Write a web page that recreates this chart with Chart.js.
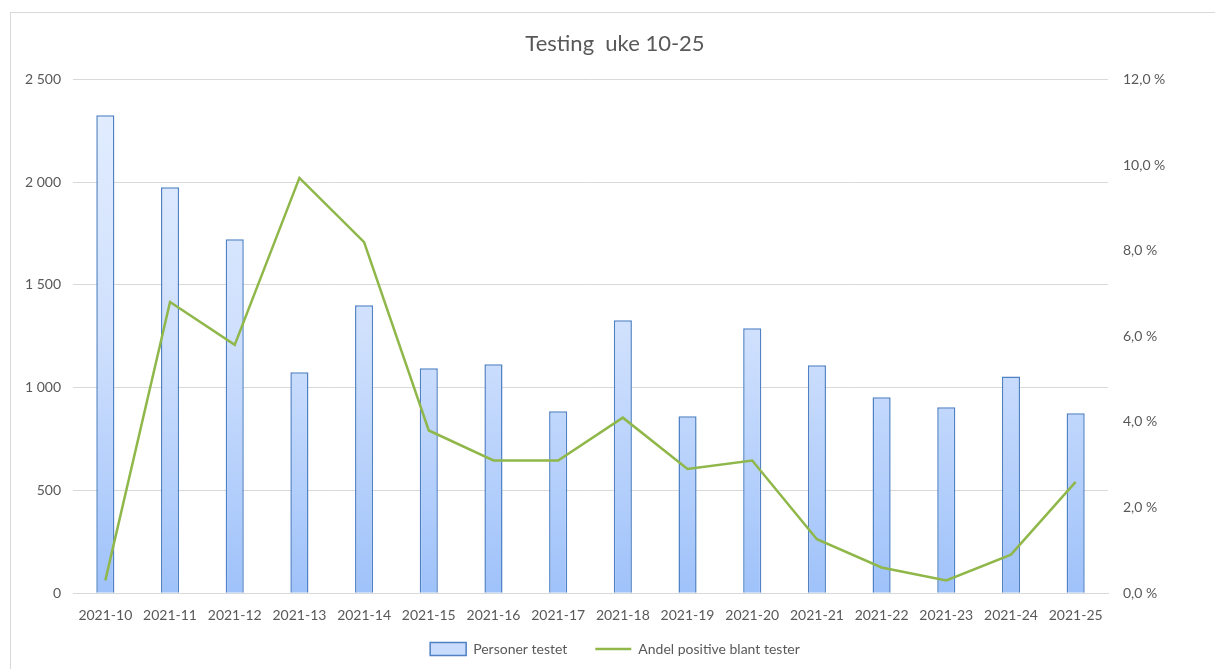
<!DOCTYPE html>
<html>
<head>
<meta charset="utf-8">
<script src="https://cdn.jsdelivr.net/npm/chart.js@4/dist/chart.umd.min.js"></script>
<style>
  html, body { margin: 0; padding: 0; background: #ffffff; }
  #wrap { position: absolute; left: 10px; top: 12px; width: 1210px; height: 665px; border: 1px solid #d9d9d9; box-sizing: border-box; }
  canvas { display: block; }
</style>
</head>
<body>
<div id="wrap"><canvas id="c" width="1208" height="663"></canvas></div>
<script>
const categories = ["2021-10","2021-11","2021-12","2021-13","2021-14","2021-15","2021-16","2021-17","2021-18","2021-19","2021-20","2021-21","2021-22","2021-23","2021-24","2021-25"];
const personerTestet = [2325, 1975, 1722, 1075, 1401, 1094, 1114, 885, 1328, 861, 1289, 1109, 953, 905, 1055, 875];
const andelPositive = [0.3, 6.8, 5.8, 9.7, 8.2, 3.8, 3.1, 3.1, 4.1, 2.9, 3.1, 1.26, 0.6, 0.3, 0.9, 2.6];
const leftTicks = [0, 500, 1000, 1500, 2000, 2500];
const rightTicks = [0, 2, 4, 6, 8, 10, 12];

const FONT = "Lato, 'Open Sans', sans-serif";
const GREY = '#595959';

function barGradient(ctx) {
  const chart = ctx.chart;
  const area = chart.chartArea;
  if (!area) return '#bcd4fb';
  const g = chart.ctx.createLinearGradient(0, area.top, 0, area.bottom);
  g.addColorStop(0, '#e4eeff');
  g.addColorStop(0.5, '#cfe0fd');
  g.addColorStop(1, '#9fc2fa');
  return g;
}

// lift the legend a little closer to the axis labels (spacing only)
const legendLift = {
  id: 'legendLift',
  afterLayout(chart) {
    const lg = chart.legend;
    if (lg) { lg.top -= 24; lg.bottom -= 24; }
  }
};

new Chart(document.getElementById('c'), {
  plugins: [legendLift],
  data: {
    labels: categories,
    datasets: [
      {
        type: 'line',
        label: 'Andel positive blant tester',
        data: andelPositive,
        yAxisID: 'y1',
        borderColor: '#8fb74a',
        backgroundColor: '#8fb74a',
        borderWidth: 2.5,
        pointRadius: 0,
        tension: 0,
        order: 0
      },
      {
        type: 'bar',
        label: 'Personer testet',
        data: personerTestet,
        yAxisID: 'y',
        backgroundColor: barGradient,
        borderColor: '#4f81c4',
        borderWidth: 1.5,
        barPercentage: 0.56,
        categoryPercentage: 0.5,
        order: 1
      }
    ]
  },
  options: {
    responsive: false,
    animation: false,
    layout: { padding: { left: 0, right: 0, top: 0, bottom: -14 } },
    plugins: {
      title: {
        display: true,
        text: 'Testing  uke 10-25',
        color: GREY,
        font: { family: FONT, size: 22, weight: 'normal' },
        padding: { top: 17.5, bottom: 22.5 }
      },
      legend: {
        position: 'bottom',
        reverse: true,
        labels: {
          color: GREY,
          font: { family: FONT, size: 14 },
          usePointStyle: true,
          pointStyleWidth: 36,
          boxHeight: 13,
          padding: 28,
          generateLabels: function(chart) {
            const items = Chart.defaults.plugins.legend.labels.generateLabels(chart);
            items.forEach(it => {
              const ds = chart.data.datasets[it.datasetIndex];
              if (ds.type === 'line') {
                it.pointStyle = 'line';
                it.strokeStyle = '#8fb74a';
                it.fillStyle = '#8fb74a';
                it.lineWidth = 2.5;
              } else {
                it.pointStyle = 'rect';
                it.fillStyle = '#c9dcfd';
                it.strokeStyle = '#4f81c4';
                it.lineWidth = 1.5;
              }
            });
            return items;
          }
        }
      },
      tooltip: { enabled: false }
    },
    scales: {
      x: {
        grid: { display: false, drawTicks: false },
        border: { display: true, color: '#d9d9d9', width: 1 },
        ticks: { color: GREY, font: { family: FONT, size: 14 }, maxRotation: 0, autoSkip: false, padding: 14 }
      },
      y: {
        position: 'left',
        min: 0, max: 2500,
        afterBuildTicks: s => { s.ticks = leftTicks.map(v => ({ value: v })); },
        afterFit: s => { s.width = 62; },
        grid: { color: '#d9d9d9', drawTicks: false },
        border: { display: false },
        ticks: {
          color: GREY, font: { family: FONT, size: 14 }, padding: 12,
          callback: v => v.toLocaleString('en-US').replace(/,/g, ' ')
        }
      },
      y1: {
        position: 'right',
        min: 0, max: 12,
        afterBuildTicks: s => { s.ticks = rightTicks.map(v => ({ value: v })); },
        afterFit: s => { s.width = 111; },
        grid: { display: false, drawTicks: false },
        border: { display: false },
        ticks: {
          color: GREY, font: { family: FONT, size: 14 }, padding: 15,
          callback: v => v.toFixed(1).replace('.', ',') + ' %'
        }
      }
    }
  }
});
</script>
</body>
</html>
